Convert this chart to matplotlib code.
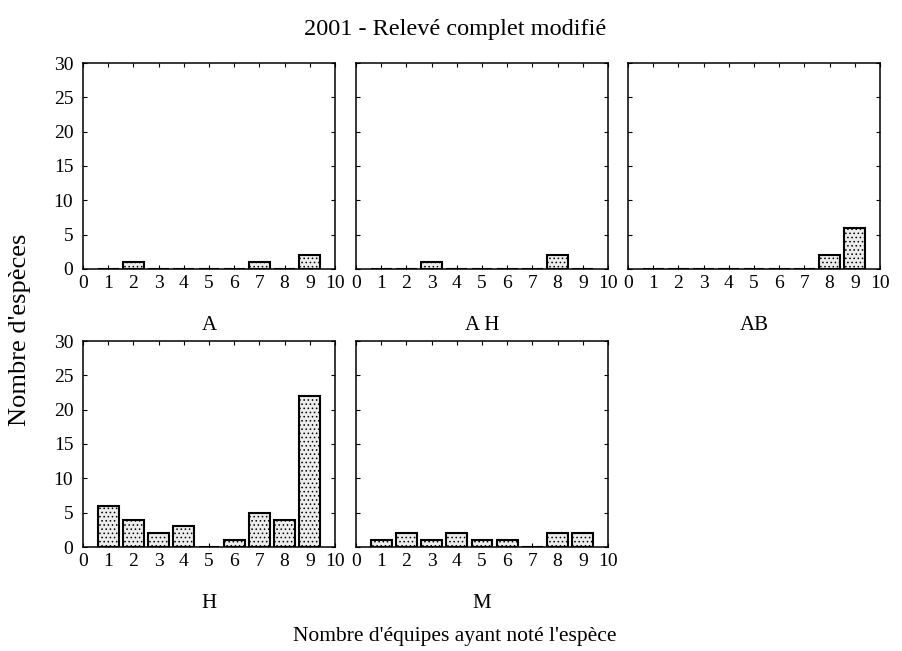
import matplotlib
matplotlib.use("Agg")
import matplotlib.pyplot as plt
import numpy as np

plt.rcParams['font.family'] = ['Liberation Serif', 'DejaVu Serif']
plt.rcParams['hatch.color'] = '#a0a0a0'
plt.rcParams['hatch.linewidth'] = 0.6

x = list(range(1, 10))
panels = ["A", "A H", "AB", "H", "M"]
val_A  = [0, 1, 0, 0, 0, 0, 1, 0, 2]
val_AH = [0, 0, 1, 0, 0, 0, 0, 2, 0]
val_AB = [0, 0, 0, 0, 0, 0, 0, 2, 6]
val_H  = [6, 4, 2, 3, 0, 1, 5, 4, 22]
val_M  = [1, 2, 1, 2, 1, 1, 0, 2, 2]
values = [val_A, val_AH, val_AB, val_H, val_M]
xticks = list(range(0, 11))
yticks = [0, 5, 10, 15, 20, 25, 30]

fig = plt.figure(figsize=(9.02, 6.51), dpi=100)
W, H = 902, 651
lefts = [83, 356, 628]
bottoms = [269, 547]
aw, ah = 252, 206
pos = [(0, 0), (1, 0), (2, 0), (0, 1), (1, 1)]

for (col, row), name, vals in zip(pos, panels, values):
    l = lefts[col]; b = bottoms[row]
    ax = fig.add_axes([l / W, (H - b) / H, aw / W, ah / H])
    ax.bar(x, vals, width=0.82, color='#ececec', edgecolor='black', linewidth=1.5,
           hatch='....', zorder=2)
    ax.set_xlim(0, 10)
    ax.set_ylim(0, 30)
    ax.set_xticks(xticks)
    ax.set_yticks(yticks)
    ax.tick_params(direction='in', top=True, right=True, length=3, width=0.8,
                   labelsize=14)
    ax.tick_params(axis='y', pad=7)
    ax.tick_params(axis='x', pad=4)
    if col != 0:
        ax.set_yticklabels([])
    for s in ax.spines.values():
        s.set_linewidth(1.1)
    fig.text((l + aw / 2) / W, 1 - (b + 57) / H, name, ha='center', va='center', fontsize=15)

fig.text(455 / W, 1 - 30 / H, "2001 - Relevé complet modifié", ha='center', va='center', fontsize=17.5)
fig.text(455 / W, 1 - 636 / H, "Nombre d'équipes ayant noté l'espèce", ha='center', va='center', fontsize=15.5)
fig.text(20 / W, 1 - 330 / H, "Nombre d'espèces", ha='center', va='center', rotation=90, fontsize=19)

fig.savefig("out.png", dpi=100)
